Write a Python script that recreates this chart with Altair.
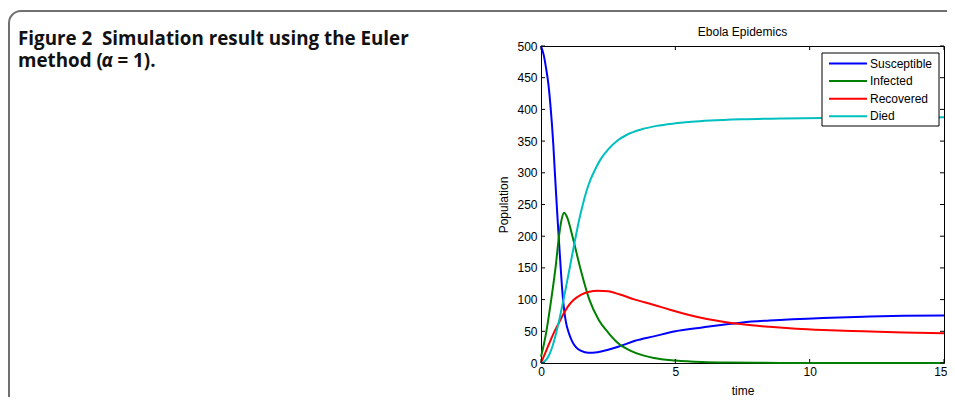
import altair as alt
import pandas as pd

# ---------------- text ----------------
caption_line1 = "Figure 2\u00a0\u00a0Simulation result using the Euler"
caption_line2a = "method ("
caption_alpha = "α"
caption_line2b = "= 1)."
chart_title = "Ebola Epidemics"
x_title = "time"
y_title = "Population"

# ---------------- series ----------------
series = ["Susceptible", "Infected", "Recovered", "Died"]
colors = ["#0000ff", "#008000", "#ff0000", "#00bfbf"]

s_time = [0, 0.1, 0.2, 0.25, 0.3, 0.36, 0.41, 0.46, 0.51, 0.56, 0.61, 0.66, 0.73, 0.8, 0.86,
          0.93, 1.03, 1.15, 1.3, 1.5, 1.75, 2.1, 2.5, 2.9, 3.5, 4.2, 5.0, 6.0, 6.7, 7.5, 8.5,
          10.5, 12, 13.5, 15]
s_vals = [500, 486, 462, 448, 430, 402, 375, 343, 305, 268, 232, 198, 152, 110, 84,
          64, 48, 35, 25, 19, 16, 17, 21, 26, 35, 42, 50, 56, 60, 64, 67,
          71, 73, 74.5, 75]

i_time = [0, 0.1, 0.2, 0.38, 0.54, 0.67, 0.76, 0.86, 0.97, 1.17, 1.46, 1.8, 2.15, 2.5,
          2.85, 3.3, 3.8, 4.2, 5.0, 6.0, 7.0, 8.0, 10, 12, 15]
i_vals = [10, 28, 50, 100, 150, 200, 225, 237, 230, 200, 150, 100, 68, 48,
          32, 20, 12, 8, 4, 1.5, 0.6, 0.3, 0.1, 0, 0]

r_time = [0, 0.2, 0.46, 0.65, 0.83, 1.0, 1.2, 1.5, 1.8, 2.1, 2.5, 2.94, 3.5, 4.18, 4.8,
          5.4, 6.0, 6.66, 7.5, 8.5, 9.5, 10.5, 12, 13.5, 15]
r_vals = [0, 20, 46, 62, 77, 89, 99, 108, 112.5, 114, 113, 108, 100, 92, 84,
          77, 71, 66, 61, 57, 54, 52, 50, 48, 47]

d_time = [0, 0.12, 0.26, 0.41, 0.57, 0.7, 0.82, 0.95, 1.1, 1.25, 1.4, 1.55, 1.7, 1.85,
          2.0, 2.2, 2.5, 2.85, 3.2, 3.7, 4.3, 5.0, 5.6, 6.3, 7.5, 9, 10.5, 12, 13.5, 15]
d_vals = [0, 2, 9, 24, 48, 72, 96, 124, 157, 190, 222, 249, 272, 290,
          304, 320, 337, 351, 360, 368, 374, 378, 380.5, 382.5, 384.5, 385.8, 386.5, 387,
          387.3, 387.5]

x_ticks = [0, 5, 10, 15]
y_ticks = [0, 50, 100, 150, 200, 250, 300, 350, 400, 450, 500]

series_data = {
    "Susceptible": (s_time, s_vals),
    "Infected": (i_time, i_vals),
    "Recovered": (r_time, r_vals),
    "Died": (d_time, d_vals),
}

rows = []
for name in series:
    ts, vs = series_data[name]
    for t, v in zip(ts, vs):
        rows.append({"series": name, "time": t, "value": v})
df = pd.DataFrame(rows)

xt_df = pd.DataFrame({"time": x_ticks})
yt_df = pd.DataFrame({"value": y_ticks})
one = pd.DataFrame({"a": [0]})

FONT = "Liberation Sans"
W, H = 403, 317
last_x = x_ticks[-1]

x_scale = alt.Scale(domain=[0, 15], nice=False, zero=False)
y_scale = alt.Scale(domain=[0, 500], nice=False)
color_scale = alt.Scale(domain=series, range=colors)

x_axis = alt.Axis(values=x_ticks, title=x_title, ticks=False, domain=False, grid=False,
                  labelFlush=False, labelPadding=3, titlePadding=8, labelFont=FONT,
                  labelFontSize=12, titleFont=FONT, titleFontSize=12,
                  labelAlign={"condition": {"test": f"datum.value == {last_x}",
                                            "value": "right"}, "value": "center"},
                  labelOffset={"condition": {"test": f"datum.value == {last_x}",
                                             "value": 3}, "value": 0},
                  titleFontWeight="normal", labelColor="#000", titleColor="#000")
y_axis = alt.Axis(values=y_ticks, title=y_title, ticks=False, domain=False, grid=False,
                  labelFlush=False, labelPadding=4, titlePadding=6, labelFont=FONT,
                  labelFontSize=12, titleFont=FONT, titleFontSize=12,
                  titleFontWeight="normal", labelColor="#000", titleColor="#000")

# outer rounded border
border = alt.Chart(one).mark_rect(
    fillOpacity=0, stroke="#707070", strokeWidth=2, cornerRadius=12
).encode(x=alt.value(-532), x2=alt.value(430), y=alt.value(-35), y2=alt.value(420))

CAP_X = -523
cap_style = dict(align="left", baseline="alphabetic", font="Open Sans", fontSize=18.8,
                 fontWeight="bold", color="#111")
cap1 = alt.Chart(one).mark_text(**cap_style).encode(
    x=alt.value(CAP_X), y=alt.value(-1), text=alt.value(caption_line1))
cap2 = alt.Chart(one).mark_text(**cap_style).encode(
    x=alt.value(CAP_X), y=alt.value(21), text=alt.value(caption_line2a))
cap3 = alt.Chart(one).mark_text(fontStyle="italic", **cap_style).encode(
    x=alt.value(CAP_X + 83.5), y=alt.value(21), text=alt.value(caption_alpha))
cap4 = alt.Chart(one).mark_text(**cap_style).encode(
    x=alt.value(CAP_X + 99.5), y=alt.value(21), text=alt.value(caption_line2b))

title_mark = alt.Chart(one).mark_text(align="center", baseline="middle", font=FONT,
                                      fontSize=12, color="#000").encode(
    x=alt.value(W / 2), y=alt.value(-14), text=alt.value(chart_title))

layers = [border, cap1, cap2, cap3, cap4, title_mark]

for name in series:
    layer = alt.Chart(df).transform_filter(alt.datum.series == name).mark_line(
        strokeWidth=2, interpolate="monotone"
    ).encode(
        x=alt.X("time:Q", scale=x_scale, axis=x_axis),
        y=alt.Y("value:Q", scale=y_scale, axis=y_axis),
        color=alt.Color("series:N", scale=color_scale, legend=None),
    )
    layers.append(layer)

tick_style = dict(color="#000", strokeWidth=1)
ticks_left = alt.Chart(yt_df).mark_rule(**tick_style).encode(
    y=alt.Y("value:Q", scale=y_scale, axis=y_axis), x=alt.value(0), x2=alt.value(4))
ticks_right = alt.Chart(yt_df).mark_rule(**tick_style).encode(
    y=alt.Y("value:Q", scale=y_scale, axis=y_axis), x=alt.value(W - 4), x2=alt.value(W))
ticks_bottom = alt.Chart(xt_df).mark_rule(**tick_style).encode(
    x=alt.X("time:Q", scale=x_scale, axis=x_axis), y=alt.value(H - 4), y2=alt.value(H))
ticks_top = alt.Chart(xt_df).mark_rule(**tick_style).encode(
    x=alt.X("time:Q", scale=x_scale, axis=x_axis), y=alt.value(0), y2=alt.value(4))
layers += [ticks_left, ticks_right, ticks_bottom, ticks_top]

# legend (drawn manually, MATLAB style)
leg_box = alt.Chart(one).mark_rect(fill="white", stroke="#000", strokeWidth=1).encode(
    x=alt.value(281), x2=alt.value(398), y=alt.value(7), y2=alt.value(80))
layers.append(leg_box)
for idx, name in enumerate(series):
    row_df = pd.DataFrame({"series": [name]})
    py = 17.5 + idx * 17.6
    layers.append(alt.Chart(row_df).mark_rule(strokeWidth=2).encode(
        x=alt.value(288), x2=alt.value(326), y=alt.value(py),
        color=alt.Color("series:N", scale=color_scale, legend=None)))
    layers.append(alt.Chart(row_df).mark_text(
        align="left", baseline="middle", font=FONT, fontSize=12, color="#000").encode(
        x=alt.value(329), y=alt.value(py), text="series:N"))

chart = alt.layer(*layers).properties(
    width=W, height=H,
    autosize=alt.AutoSizeParams(type="none"),
    padding={"left": 533, "top": 38, "right": 3, "bottom": 34},
    background="white",
).configure_view(stroke="#000", strokeWidth=1)

chart.save("out.html", embed_options={"renderer": "svg", "actions": False})
